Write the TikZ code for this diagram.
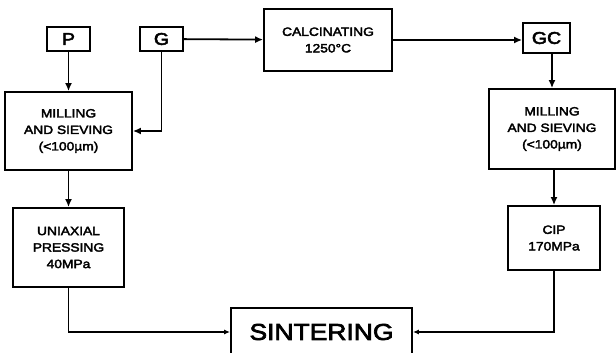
\documentclass[tikz,border=0pt]{standalone}
\usepackage{fontspec}
\setmainfont{Liberation Sans}[FakeStretch=1.15,FakeBold=3]
\usepackage{tikz}
\usetikzlibrary{arrows.meta,calc}

\begin{document}
\begin{tikzpicture}[>={Latex[length=8pt,width=7pt]}, x=1pt, y=-1pt, line width=1.8pt,
		blk/.style={draw, align=center, inner sep=0pt, font=\fontsize{12}{16.5}\selectfont},
		tag/.style={draw, inner sep=0pt, font=\fontsize{17}{20}\selectfont}]
			\useasboundingbox (0,0) rectangle (616,353);
			\node[tag, minimum width=43pt, minimum height=24pt] (P) at (68.5,39) {P};
			\node[tag, minimum width=43pt, minimum height=24pt] (G) at (161.5,39) {G};
			\node[blk, minimum width=128pt, minimum height=62pt] (calc) at (328,40) {CALCINATING\\1250°C};
			\node[tag, minimum width=47pt, minimum height=30pt] (GC) at (546.5,38) {GC};
			\node[blk, minimum width=127pt, minimum height=78pt] (millL) at (68.5,131) {MILLING\\AND SIEVING\\(<100µm)};
			\node[blk, minimum width=126pt, minimum height=80pt] (millR) at (552,129) {MILLING\\AND SIEVING\\(<100µm)};
			\node[blk, minimum width=111pt, minimum height=79pt] (press) at (68.5,247.5) {UNIAXIAL\\PRESSING\\40MPa};
			\node[blk, minimum width=92pt, minimum height=64pt] (cip) at (554,238) {CIP\\170MPa};
			\node[draw, inner sep=0pt, minimum width=181pt, minimum height=48pt, font=\fontsize{23}{26}\selectfont] (sint) at (321.5,332) {SINTERING};
			\draw[->] (P) -- (millL);
			\draw[->] (G) |- (millL);
			\draw[->] (G) -- (calc);
			\draw[->] (calc) -- (calc -| GC.west);
			\draw[->] (GC.south -| millR) -- (millR);
			\draw[->] (millL) -- (press);
			\draw[->] (millR.south -| cip) -- (cip);
			\draw[->, >={Latex[length=6pt,width=5pt]}] (press) |- (sint);
			\draw[->, >={Latex[length=6pt,width=5pt]}] (cip) |- (sint);
		\end{tikzpicture}
\end{document}
